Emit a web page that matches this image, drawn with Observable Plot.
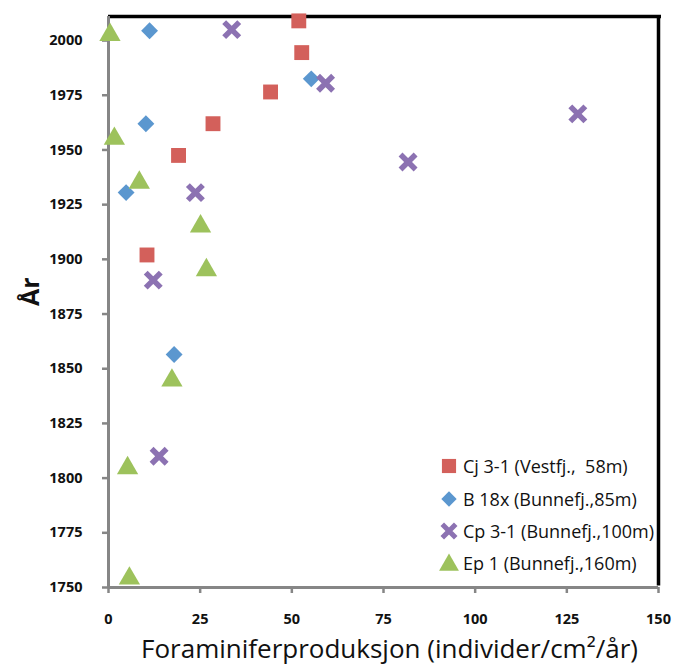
<!DOCTYPE html>
<html>
<head>
<meta charset="utf-8">
<script src="https://cdn.jsdelivr.net/npm/d3@7"></script>
<script src="https://cdn.jsdelivr.net/npm/@observablehq/plot@0.6"></script>
<style>
  body { margin: 0; background: #fff; }
  #chart { position: relative; width: 676px; height: 670px; }
  #legend { position: absolute; left: 438px; top: 450px; font-family: "Open Sans", sans-serif; font-size: 18px; color: #111; }
  #legend .row { display: flex; align-items: center; height: 32.4px; }
  #legend svg { width: 22px; height: 22px; margin-right: 3px; }
</style>
</head>
<body>
<div id="chart"><div id="legend"></div></div>
<script>
// Foraminifera production per core, by year
const seriesNames = ["Cj 3-1 (Vestfj.,  58m)", "B 18x (Bunnefj.,85m)", "Cp 3-1 (Bunnefj.,100m)", "Ep 1 (Bunnefj.,160m)"];
const seriesColors = ["#D3605B", "#5B97CF", "#8C72B2", "#9DC25C"];

const cjProd = [51.9, 52.7, 44.2, 28.5, 19.1, 10.5];
const cjYear = [2009, 1994.5, 1976.5, 1962, 1947.5, 1902];

const bProd = [11.2, 55.3, 10.2, 4.8, 17.9];
const bYear = [2004.5, 1982.5, 1962, 1930.5, 1856.5];

const cpProd = [33.6, 59.2, 128.0, 81.7, 23.7, 12.2, 13.8];
const cpYear = [2005, 1980.5, 1966.5, 1944.5, 1930.5, 1890.5, 1810];

const epProd = [0.4, 1.6, 8.4, 25.1, 26.7, 17.3, 5.2, 5.7];
const epYear = [2004, 1956.5, 1936.5, 1916.5, 1896.5, 1846, 1806, 1755.5];

const xTicks = [0, 25, 50, 75, 100, 125, 150];
const yTicks = [1750, 1775, 1800, 1825, 1850, 1875, 1900, 1925, 1950, 1975, 2000];
const xTitle = "Foraminiferproduksjon (individer/cm²/år)";
const yTitle = "År";

const toRows = (xs, ys) => xs.map((x, i) => ({x, y: ys[i]}));
const cj = toRows(cjProd, cjYear);
const b = toRows(bProd, bYear);
const cp = toRows(cpProd, cpYear);
const ep = toRows(epProd, epYear);

const axisGray = "#868686";
const font = "'Open Sans', sans-serif";

const chart = Plot.plot({
  width: 676,
  height: 670,
  marginLeft: 108,
  marginRight: 18,
  marginTop: 16,
  marginBottom: 83,
  style: {fontFamily: font, background: "#fff", overflow: "visible"},
  x: {domain: [0, 150]},
  y: {domain: [1750, 2011]},
  marks: [
    // frame: black top and right edges, gray axes on left and bottom
    Plot.ruleY([2011], {stroke: "#000", strokeWidth: 3.5, x1: 0, x2: 150, insetRight: -3}),
    Plot.ruleX([150], {stroke: "#000", strokeWidth: 3.5, y1: 1750, y2: 2011, insetTop: -1.5}),
    Plot.axisY({ticks: yTicks, tickFormat: "d", tickSize: 6, tickPadding: 20, stroke: axisGray, strokeWidth: 2.5,
      fontSize: 14.5, fill: "#111", label: null}),
    Plot.axisX({ticks: xTicks, tickFormat: "d", tickSize: 6, tickPadding: 20, stroke: axisGray, strokeWidth: 2.5,
      fontSize: 14.5, fill: "#111", label: null}),
    Plot.ruleX([0], {stroke: axisGray, strokeWidth: 3, y1: 1750, y2: 2011}),
    Plot.ruleY([1750], {stroke: axisGray, strokeWidth: 3, x1: 0, x2: 150}),
    // series
    Plot.dot(cj, {x: "x", y: "y", symbol: "square", r: 8.4, fill: seriesColors[0]}),
    Plot.dot(b, {x: "x", y: "y", symbol: "diamond2", r: 7.6, fill: seriesColors[1]}),
    Plot.dot(cp, {x: "x", y: "y", symbol: "times", r: 6.9, stroke: seriesColors[2], strokeWidth: 5.5, fill: "none"}),
    Plot.dot(ep, {x: "x", y: "y", symbol: "triangle", r: 7.9, fill: seriesColors[3], dy: 3}),
    // axis titles
    Plot.text([xTitle], {frameAnchor: "bottom", text: d => d, dx: 6, dy: 70, fontSize: 26, fill: "#111"}),
    Plot.text([yTitle], {frameAnchor: "left", text: d => d, dx: -78, dy: 4, rotate: -90, fontSize: 25, fontWeight: "bold", fill: "#111"})
  ]
});
document.getElementById("chart").prepend(chart);

// bold tick labels on both axes
d3.select(chart).selectAll("g[aria-label*='axis'] text").style("font-weight", "bold");

// legend
const legendSymbols = [d3.symbolSquare, d3.symbolDiamond2, d3.symbolTimes, d3.symbolTriangle];
const legendSizes = [200, 150, 120, 170];
const legend = d3.select("#legend");
seriesNames.forEach((name, i) => {
  const row = legend.append("div").attr("class", "row");
  const svg = row.append("svg").attr("viewBox", "-11 -11 22 22");
  const path = svg.append("path").attr("d", d3.symbol(legendSymbols[i], legendSizes[i])());
  if (i === 2) path.attr("fill", "none").attr("stroke", seriesColors[i]).attr("stroke-width", 5);
  else path.attr("fill", seriesColors[i]).attr("transform", i === 3 ? "translate(0,2)" : null);
  row.append("span").text(name).style("white-space", "pre");
});
</script>
</body>
</html>
